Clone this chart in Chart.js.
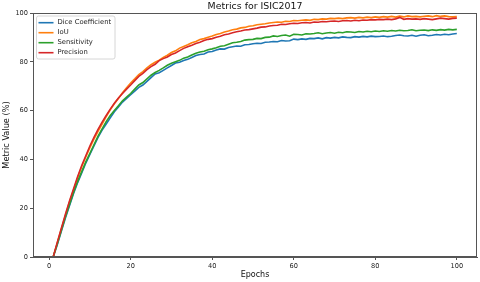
<!DOCTYPE html>
<html>
<head>
<meta charset="utf-8">
<script src="https://cdn.jsdelivr.net/npm/chart.js@4/dist/chart.umd.min.js"></script>
<style>
  html, body { margin: 0; padding: 0; background: #fff; }
  #wrap { width: 480px; height: 282px; }
</style>
</head>
<body>
<div id="wrap"><canvas id="chart"></canvas></div>
<script>
// epochs 1..100
const epochs = [
  1,2,3,4,5,6,7,8,9,10, 11,12,13,14,15,16,17,18,19,20,
  21,22,23,24,25,26,27,28,29,30, 31,32,33,34,35,36,37,38,39,40,
  41,42,43,44,45,46,47,48,49,50, 51,52,53,54,55,56,57,58,59,60,
  61,62,63,64,65,66,67,68,69,70, 71,72,73,74,75,76,77,78,79,80,
  81,82,83,84,85,86,87,88,89,90, 91,92,93,94,95,96,97,98,99,100
];

const dice = [
  0, 5, 10.5, 16, 21, 26, 30.5, 34.5, 38.5, 42,
  45.5, 49, 52, 54.5, 57, 59.5, 61.5, 63.5, 65, 66.5,
  68, 69.5, 70.5, 72, 73.5, 75, 75.5, 76.5, 77.5, 78.5,
  79.5, 79.8, 80.5, 81, 81.8, 82.6, 83, 83.2, 84, 84.2,
  84.8, 85.3, 85.2, 85.9, 86.2, 86.5, 86.4, 87, 87.1, 87.4,
  87.6, 87.5, 88, 88.1, 88.3, 88.2, 88.7, 88.5, 88.6, 89.3,
  89.1, 89.4, 89.2, 89.6, 89.5, 89.8, 89.4, 89.9, 89.7, 90,
  89.8, 90.2, 90, 89.9, 90.3, 90.1, 90.4, 90.2, 90.5, 90.3,
  90.4, 90.6, 90.3, 90.5, 90.8, 91, 90.7, 90.6, 90.9, 90.5,
  90.9, 91.1, 90.7, 90.9, 91.2, 91, 91.3, 91.1, 91.4, 91.6
];

const iou = [
  0, 5.8, 11.5, 17, 22.5, 27.5, 32.5, 37, 41, 44.8,
  48.3, 51.5, 54.5, 57.5, 60.3, 62.8, 65, 67.3, 69.4, 71.3,
  73, 74.8, 76, 77.5, 78.8, 79.8, 80.7, 81.8, 82.7, 83.8,
  84.5, 85.6, 86.3, 87, 87.8, 88.3, 89.1, 89.5, 90.1, 90.6,
  91.2, 91.6, 92.2, 92.6, 93.1, 93.4, 93.9, 94.1, 94.6, 94.8,
  95.2, 95.4, 95.6, 95.9, 96.1, 96.3, 96.2, 96.6, 96.5, 96.9,
  96.8, 97, 97.2, 97, 97.4, 97.3, 97.6, 97.5, 97.8, 97.7,
  97.9, 97.7, 98, 98.1, 97.9, 98.2, 98, 98.3, 98.1, 98.4,
  98.2, 98.5, 98.3, 98.6, 98.3, 98.7, 98.4, 98.8, 98.5, 98.6,
  98.4, 98.7, 98.8, 98.5, 98.9, 98.6, 98.8, 98.5, 98.4, 98.5
];

const sensitivity = [
  0, 5.3, 11, 16.5, 21.5, 26.5, 31, 35, 39, 42.5,
  46, 49.5, 52.5, 55.5, 58, 60, 62, 64, 65.5, 67,
  68.8, 70.5, 71.5, 73, 74.5, 75.6, 76.5, 77.5, 78.6, 79.4,
  80, 80.6, 81.5, 82, 82.8, 83.5, 84, 84.3, 84.9, 85.3,
  85.8, 86.4, 86.6, 87.2, 87.8, 88, 88.3, 88.9, 89.1, 89.2,
  89.6, 89.5, 90, 90.1, 90.6, 90.4, 90.8, 91, 90.5, 91.3,
  91.2, 91, 91.5, 91.4, 91.6, 91.9, 91.5, 91.8, 92, 91.7,
  92.1, 91.9, 92.3, 92.2, 92, 92.4, 92.2, 92.5, 92.3, 92.6,
  92.4, 92.7, 92.5, 92.8, 92.6, 92.9, 92.7, 92.8, 93.1, 92.7,
  92.9, 93, 92.8, 93.1, 92.9, 93.2, 93, 93.3, 93.1, 93.3
];

const precision = [
  0, 6, 11.8, 17.5, 23, 28, 33, 37.5, 41.5, 45.5,
  49, 52.3, 55.3, 58, 60.6, 63, 65.2, 67, 68.8, 70.5,
  72.3, 74, 75.3, 76.8, 78, 79, 80.5, 81.3, 82, 83,
  83.6, 84.6, 85.5, 86.2, 86.8, 87.5, 88, 88.7, 89.2, 89.5,
  90.1, 90.5, 91.1, 91.4, 91.9, 92.3, 92.6, 93, 93.2, 93.5,
  93.8, 94.2, 94.3, 94.7, 94.9, 95, 95.4, 95.3, 95.6, 95.8,
  95.7, 96, 96.1, 95.9, 96.3, 96.2, 96.5, 96.4, 96.6, 96.7,
  96.5, 96.8, 96.9, 96.7, 97, 96.8, 97.1, 97, 97.3, 97.2,
  97.4, 97.3, 97.5, 97.3, 97.6, 98.2, 97.4, 97.7, 97.5, 97.6,
  97.4, 97.7, 97.5, 97.3, 97.6, 97.9, 97.7, 97.5, 97.8, 97.9
];

const xTicks = [0, 20, 40, 60, 80, 100];
const yTicks = [0, 20, 40, 60, 80, 100];
const chartTitle = 'Metrics for ISIC2017';

const FONT = 'DejaVu Sans';
const pts = arr => arr.map((v, i) => ({ x: epochs[i], y: v }));

// title over the plot area, frame (top/right spines) and legend box like matplotlib
const framePlugin = {
  id: 'frame',
  afterDraw(chart) {
    const { ctx, chartArea: a } = chart;
    ctx.save();
    ctx.strokeStyle = '#555';
    ctx.lineWidth = 1;
    ctx.strokeRect(a.left + 0.5, a.top + 0.5, a.right - a.left - 1, a.bottom - a.top - 1);

    ctx.fillStyle = '#111';
    ctx.font = '9.4px "' + FONT + '"';
    ctx.textAlign = 'center';
    ctx.textBaseline = 'middle';
    ctx.fillText(chartTitle, (a.left + a.right) / 2, a.top - 6.5);

    // legend
    const bx = a.left + 3.5, by = a.top + 3, bw = 78.5, bh = 43, r = 2;
    ctx.fillStyle = 'rgba(255,255,255,0.8)';
    ctx.strokeStyle = '#d6d6d6';
    ctx.beginPath();
    ctx.roundRect(bx, by, bw, bh, r);
    ctx.fill();
    ctx.stroke();
    ctx.font = '6.8px "' + FONT + '"';
    ctx.textAlign = 'left';
    chart.data.datasets.forEach((ds, i) => {
      const y = by + 6.7 + i * 10;
      ctx.strokeStyle = ds.borderColor;
      ctx.lineWidth = 1.6;
      ctx.beginPath();
      ctx.moveTo(bx + 2, y);
      ctx.lineTo(bx + 17, y);
      ctx.stroke();
      ctx.fillStyle = '#222';
      ctx.fillText(ds.label, bx + 21, y);
    });
    ctx.restore();
  }
};

new Chart(document.getElementById('chart'), {
  type: 'line',
  data: {
    datasets: [
      { label: 'Dice Coefficient', data: pts(dice), borderColor: '#1f77b4', order: 3 },
      { label: 'IoU', data: pts(iou), borderColor: '#ff7f0e', order: 2 },
      { label: 'Sensitivity', data: pts(sensitivity), borderColor: '#2ca02c', order: 1 },
      { label: 'Precision', data: pts(precision), borderColor: '#d62728', order: 0 },
    ],
  },
  options: {
    responsive: true,
    maintainAspectRatio: false,
    animation: false,
    devicePixelRatio: 1,
    layout: { padding: { top: 13, right: 3, left: 0, bottom: 0 } },
    elements: {
      point: { radius: 0 },
      line: { borderWidth: 1.6, tension: 0, fill: false },
    },
    plugins: {
      legend: { display: false },
      tooltip: { enabled: false },
      title: { display: false },
    },
    scales: {
      x: {
        type: 'linear',
        min: -3.95,
        max: 104.95,
        afterBuildTicks: s => { s.ticks = xTicks.map(v => ({ value: v })); },
        afterFit: s => { s.height = 25; },
        grid: { drawOnChartArea: false, drawTicks: true, tickLength: 3, tickColor: '#555' },
        border: { display: true, color: '#555', width: 1 },
        ticks: { color: '#222', padding: 2, maxRotation: 0, font: { family: FONT, size: 6.6 } },
        title: {
          display: true, text: 'Epochs', color: '#111',
          font: { family: FONT, size: 8 }, padding: { top: 0, bottom: 2.2 },
        },
      },
      y: {
        min: 0,
        max: 100,
        afterBuildTicks: s => { s.ticks = yTicks.map(v => ({ value: v })); },
        afterFit: s => { s.width = 33; },
        grid: { drawOnChartArea: false, drawTicks: true, tickLength: 3, tickColor: '#555' },
        border: { display: true, color: '#555', width: 1 },
        ticks: { color: '#222', padding: 2, font: { family: FONT, size: 6.6 } },
        title: {
          display: true, text: 'Metric Value (%)', color: '#111',
          font: { family: FONT, size: 8.2 }, padding: { top: 2, bottom: 0 },
        },
      },
    },
  },
  plugins: [framePlugin],
});
</script>
</body>
</html>
